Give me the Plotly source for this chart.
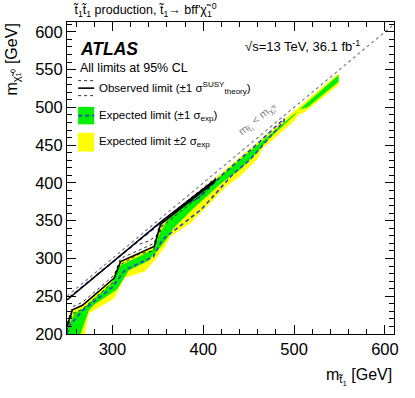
import plotly.graph_objects as go

# contours in (m_stop, m_chi)
yel_up_x = [250, 257, 267, 300, 307, 345, 353, 360, 400, 450, 500, 549]
yel_up_y = [214, 232, 238, 272, 294, 316, 340, 353, 393, 444, 494, 545]
yel_dn_x = [549, 512, 505, 500, 465, 460, 440, 425, 407, 397, 386, 364, 357, 347, 336, 313, 302, 274, 270, 268, 250]
yel_dn_y = [530, 494, 490, 482, 445, 432, 408, 395, 372, 360, 347, 329, 314, 298, 283, 274, 247, 227, 205, 190, 190]

grn_up_x = [250, 258, 268, 300, 306, 345, 353, 360, 400, 450, 500, 549]
grn_up_y = [206, 227, 234, 268, 289, 312, 335, 350, 390, 441, 491, 543]
grn_dn_x = [549, 515, 505, 500, 470, 460, 440, 420, 400, 390, 368, 360, 350, 338, 318, 305, 280, 274, 262, 250]
grn_dn_y = [534, 500, 497, 489, 456, 441, 417, 400, 378, 367, 341, 326, 311, 296, 284, 259, 239, 231, 190, 190]

exp_x = [250, 252, 268, 300, 314, 345, 355, 397, 407, 433, 451, 475, 489, 489, 458, 422, 396, 380, 353, 250]
exp_y = [200, 210, 232, 262, 285, 302, 325, 364, 377, 412, 430, 462, 482, 485, 450, 412, 381, 372, 347, 246]

obs_x = [250, 256, 267, 302, 309, 346, 353, 380, 400, 412, 414, 380, 353, 250]
obs_y = [210, 232, 238, 274, 296, 316, 345, 371, 390, 401, 405, 373, 348, 245]

obs_hi_x = [250, 256, 267, 302, 309, 346, 353, 380, 400, 414]
obs_hi_y = [214, 236, 242, 278, 300, 320, 348, 374, 394, 407]
obs_lo_x = [250, 256, 267, 300, 306, 330, 345, 353, 380, 400, 410]
obs_lo_y = [205, 227, 233, 268, 290, 306, 310, 341, 367, 386, 397]
obs_lo2_x = [330, 340, 352, 355]
obs_lo2_y = [319, 323, 333, 345]

diag_x = [250, 610]
diag_y = [250, 610]

fig = go.Figure()

fig.add_trace(go.Scatter(x=yel_up_x + yel_dn_x, y=yel_up_y + yel_dn_y, fill="toself",
                         fillcolor="#ffff00", line=dict(width=0), mode="lines", hoverinfo="skip"))
fig.add_trace(go.Scatter(x=grn_up_x + grn_dn_x, y=grn_up_y + grn_dn_y, fill="toself",
                         fillcolor="#00f000", line=dict(width=0), mode="lines", hoverinfo="skip"))
fig.add_trace(go.Scatter(x=exp_x, y=exp_y, mode="lines",
                         line=dict(color="#2b3fd6", width=1.6, dash="4px,3px")))
fig.add_trace(go.Scatter(x=obs_hi_x, y=obs_hi_y, mode="lines",
                         line=dict(color="black", width=0.8, dash="dot")))
fig.add_trace(go.Scatter(x=obs_lo_x, y=obs_lo_y, mode="lines",
                         line=dict(color="black", width=0.8, dash="dot")))
fig.add_trace(go.Scatter(x=obs_lo2_x, y=obs_lo2_y, mode="lines",
                         line=dict(color="black", width=0.8, dash="dot")))
fig.add_trace(go.Scatter(x=obs_x, y=obs_y, mode="lines",
                         line=dict(color="black", width=1.6)))
fig.add_trace(go.Scatter(x=diag_x, y=diag_y, mode="lines",
                         line=dict(color="#808080", width=1.2, dash="dot")))

font = "Liberation Sans, Arial, sans-serif"

ann = [
    dict(x=0.0, y=1.0, xref="paper", yref="paper", xanchor="left", yanchor="bottom", yshift=1, xshift=4,
         text="t̃<sub>1</sub>t̃<sub>1</sub> production, t̃<sub>1</sub>→ bff'χ̃<sub>1</sub><sup>0</sup>",
         font=dict(size=12.5)),
    dict(x=0.033, y=0.915, xref="paper", yref="paper", xanchor="left", yanchor="middle",
         text="<b><i>ATLAS</i></b>", font=dict(size=17.5)),
    dict(x=0.033, y=0.853, xref="paper", yref="paper", xanchor="left", yanchor="middle",
         text="All limits at 95% CL", font=dict(size=12.5)),
    dict(x=0.903, y=0.922, xref="paper", yref="paper", xanchor="right", yanchor="middle",
         text="√s=13 TeV, 36.1 fb<sup>-1</sup>", font=dict(size=13)),
    dict(x=0.093, y=0.788, xref="paper", yref="paper", xanchor="left", yanchor="middle",
         text="Observed limit (±1 σ<sup>SUSY</sup><sub>theory</sub>)", font=dict(size=11.5)),
    dict(x=0.093, y=0.70, xref="paper", yref="paper", xanchor="left", yanchor="middle",
         text="Expected limit (±1 σ<sub>exp</sub>)", font=dict(size=11.5)),
    dict(x=0.093, y=0.615, xref="paper", yref="paper", xanchor="left", yanchor="middle",
         text="Expected limit ±2 σ<sub>exp</sub>", font=dict(size=11.5)),
    dict(x=460, y=485, xref="x", yref="y", textangle=-39.6, showarrow=False,
         text="m<sub>t̃₁</sub> < m<sub>χ̃₁⁰</sub>", font=dict(size=11, color="#808080")),
    dict(x=1.0, y=0, xref="paper", yref="paper", xanchor="right", yanchor="top", yshift=-30,
         text="m<sub>t̃<sub>1</sub></sub> [GeV]", font=dict(size=16)),
    dict(x=0, y=1.0, xref="paper", yref="paper", xanchor="right", yanchor="top", xshift=-44,
         textangle=-90, text="m<sub>χ̃₁⁰</sub> [GeV]", font=dict(size=16)),
]
for a in ann:
    a.setdefault("showarrow", False)
    fig.add_annotation(**a)

shapes = [
    # observed legend
    dict(type="line", x0=0.034, x1=0.083, y0=0.812, y1=0.812, line=dict(color="black", width=0.8, dash="dot")),
    dict(type="line", x0=0.034, x1=0.083, y0=0.788, y1=0.788, line=dict(color="black", width=1.6)),
    dict(type="line", x0=0.034, x1=0.083, y0=0.764, y1=0.764, line=dict(color="black", width=0.8, dash="dot")),
    # expected legend
    dict(type="rect", x0=0.034, x1=0.083, y0=0.672, y1=0.728, fillcolor="#00f000", line=dict(width=0)),
    dict(type="line", x0=0.034, x1=0.083, y0=0.70, y1=0.70, line=dict(color="#2b3fd6", width=1.6, dash="4px,3px")),
    dict(type="rect", x0=0.034, x1=0.083, y0=0.585, y1=0.645, fillcolor="#ffff00", line=dict(width=0)),
]
for s in shapes:
    fig.add_shape(xref="paper", yref="paper", **s)

axis_common = dict(ticks="inside", mirror="allticks", showline=True, linecolor="black",
                   linewidth=1, showgrid=False, zeroline=False, tickcolor="black",
                   ticklen=9, tickfont=dict(size=16.5, color="black"), automargin=False)

fig.update_xaxes(range=[250, 610], tickvals=[300, 400, 500, 600],
                 minor=dict(dtick=20, tick0=0, ticklen=5, ticks="inside", tickcolor="black"),
                 **axis_common)
fig.update_yaxes(range=[200, 613], tickvals=[200, 250, 300, 350, 400, 450, 500, 550, 600],
                 minor=dict(dtick=10, tick0=0, ticklen=5, ticks="inside", tickcolor="black"),
                 **axis_common)

fig.update_layout(width=415, height=398, margin=dict(l=67, r=21, t=22, b=64),
                  plot_bgcolor="white", paper_bgcolor="white", showlegend=False,
                  font=dict(family=font, color="black"))

# drop the browser's default 8px body margin so the figure sits at the page corner
fig.write_html("out.html", config={"displayModeBar": False},
               post_script="document.body.style.margin='0';")
